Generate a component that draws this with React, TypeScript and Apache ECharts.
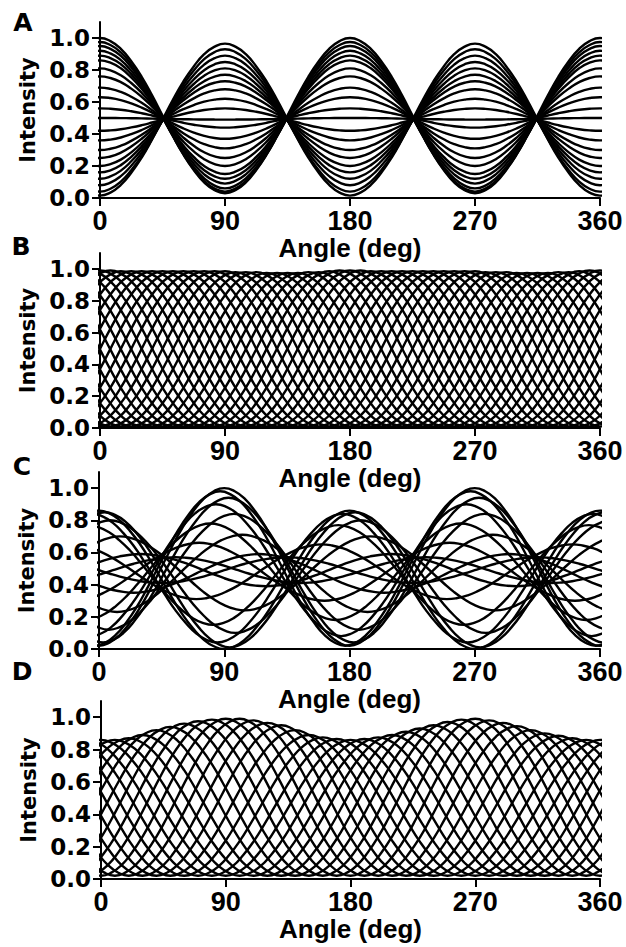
import { useEffect, useRef } from "react";
import * as echarts from "echarts";

// ---------- data ----------
const ANGLE_TICKS = [0, 90, 180, 270, 360];
const INTENSITY_TICKS = [0, 0.2, 0.4, 0.6, 0.8, 1.0];
const PANEL_LETTERS = ["A", "B", "C", "D"];

// normalized profile of one trace over half a turn, read every 7.5 deg
const TRACE_PROFILE = [
  1.0, 0.98, 0.93, 0.85, 0.75, 0.63, 0.5, 0.37, 0.25, 0.15, 0.07, 0.02,
  0.0, 0.02, 0.07, 0.15, 0.25, 0.37, 0.5, 0.63, 0.75, 0.85, 0.93, 0.98,
];
const PROFILE_STEP = 7.5;

// Panel A: value of every trace at 0 deg and at 90 deg
const A_START = [
  1.0, 0.975, 0.95, 0.92, 0.89, 0.86, 0.81, 0.76, 0.69, 0.63, 0.56, 0.5, 0.42,
  0.36, 0.3, 0.25, 0.2, 0.16, 0.12, 0.08, 0.04, 0.015,
];
const A_AT90 = [
  0.03, 0.04, 0.06, 0.09, 0.12, 0.15, 0.2, 0.25, 0.31, 0.37, 0.44, 0.49, 0.56,
  0.62, 0.68, 0.73, 0.77, 0.81, 0.85, 0.89, 0.93, 0.965,
];

// Panel B: phase (deg) of each trace and its peak, common trough
const B_PHASE = [
  0, 7.5, 15, 22.5, 30, 37.5, 45, 52.5, 60, 67.5, 75, 82.5, 90, 97.5, 105,
  112.5, 120, 127.5, 135, 142.5, 150, 157.5, 165, 172.5,
];
const B_PEAK = [
  0.99, 0.99, 0.985, 0.985, 0.985, 0.985, 0.985, 0.985, 0.985, 0.985, 0.985,
  0.985, 0.985, 0.98, 0.98, 0.98, 0.975, 0.975, 0.975, 0.975, 0.98, 0.98,
  0.985, 0.99,
];
const B_TROUGH = 0.01;

// Panel C: phase (deg), peak and trough of each trace
const C_PHASE = [0, 4, -5, 8, -8, 15, -20, 30, -45, 90, 87, 93, 84, 97, 80, 103, 72, 115, 55];
const C_PEAK = [
  0.86, 0.85, 0.84, 0.8, 0.77, 0.7, 0.65, 0.59, 0.57, 1.0, 0.98, 0.94, 0.9,
  0.84, 0.78, 0.71, 0.66, 0.59, 0.57,
];
const C_TROUGH = [
  0.0, 0.01, 0.04, 0.1, 0.15, 0.24, 0.31, 0.39, 0.41, 0.02, 0.02, 0.04, 0.08,
  0.12, 0.18, 0.23, 0.3, 0.35, 0.41,
];

// Panel D: phase (deg) of each trace, upper envelope every 10 deg, common trough
const D_PHASE = [0, 10, 20, 30, 40, 50, 60, 70, 80, 90, 100, 110, 120, 130, 140, 150, 160, 170];
const D_ENVELOPE = [
  0.86, 0.86, 0.87, 0.89, 0.92, 0.94, 0.96, 0.975, 0.985, 0.99, 0.99, 0.98,
  0.965, 0.95, 0.92, 0.89, 0.875, 0.865, 0.86, 0.865, 0.875, 0.89, 0.91, 0.93,
  0.95, 0.97, 0.985, 0.99, 0.98, 0.965, 0.945, 0.92, 0.9, 0.885, 0.87, 0.86,
];
const D_TROUGH = 0.02;

// ---------- build traces from the profile ----------
function buildTrace(
  phase: number,
  peakAt: (peakPos: number) => number,
  trough: number
): [number, number][] {
  const n = TRACE_PROFILE.length;
  const pts: [number, number][] = [];
  const kStart = Math.floor((-PROFILE_STEP - phase) / PROFILE_STEP);
  const kEnd = Math.ceil((360 + PROFILE_STEP - phase) / PROFILE_STEP);
  for (let k = kStart; k <= kEnd; k++) {
    const x = phase + k * PROFILE_STEP;
    const idx = ((k % n) + n) % n;
    const cycle = Math.round(k / n);
    const peak = peakAt(phase + 180 * cycle);
    pts.push([x, trough + (peak - trough) * TRACE_PROFILE[idx]]);
  }
  return pts;
}

const panelTraces: [number, number][][][] = [
  A_START.map((s, i) => buildTrace(0, () => s, A_AT90[i])),
  B_PHASE.map((p, i) => buildTrace(p, () => B_PEAK[i], B_TROUGH)),
  C_PHASE.map((p, i) => buildTrace(p, () => C_PEAK[i], C_TROUGH[i])),
  D_PHASE.map((p) =>
    buildTrace(
      p,
      (pos) => {
        const m = D_ENVELOPE.length;
        const j = ((Math.round(pos / 10) % m) + m) % m;
        return D_ENVELOPE[j];
      },
      D_TROUGH
    )
  ),
];

// ---------- layout ----------
const GRIDS = [
  { left: 100, top: 22, width: 500, height: 176 },
  { left: 100, top: 253, width: 500, height: 175 },
  { left: 99, top: 472, width: 501, height: 177 },
  { left: 101, top: 701, width: 499, height: 178 },
];
const LETTER_POS = [
  [23, 22],
  [21, 246],
  [22, 466],
  [22, 671],
];

export default function App() {
  const ref = useRef<HTMLDivElement>(null);

  useEffect(() => {
    document.body.style.margin = "0";
    if (!ref.current) return;
    const chart = echarts.init(ref.current, null, { renderer: "svg" });

    const axisLineStyle = { color: "#000", width: 2 };

    const xAxes = GRIDS.map((_, g) => ({
      gridIndex: g,
      type: "value",
      min: 0,
      max: 360,
      interval: 90,
      axisLine: { show: true, onZero: false, lineStyle: axisLineStyle },
      axisTick: {
        show: true,
        length: 8,
        customValues: ANGLE_TICKS,
        lineStyle: axisLineStyle,
      },
      axisLabel: {
        customValues: ANGLE_TICKS,
        color: "#000",
        fontFamily: "Liberation Sans",
        fontWeight: "bold",
        fontSize: 27,
        margin: 9,
      },
      splitLine: { show: false },
      name: "Angle (deg)",
      nameLocation: "middle",
      nameGap: 37,
      nameTextStyle: {
        color: "#000",
        fontFamily: "Liberation Sans",
        fontWeight: "bold",
        fontSize: 26,
      },
    }));

    const yAxes = GRIDS.map((_, g) => ({
      gridIndex: g,
      type: "value",
      min: 0,
      max: 1.1,
      interval: 0.2,
      axisLine: { show: true, onZero: false, lineStyle: axisLineStyle },
      axisTick: {
        show: true,
        length: 8,
        customValues: INTENSITY_TICKS,
        lineStyle: axisLineStyle,
      },
      axisLabel: {
        customValues: INTENSITY_TICKS,
        formatter: (v: number) => (v > 1.05 ? "" : v.toFixed(1)),
        color: "#000",
        fontFamily: "DejaVu Sans",
        fontWeight: "bold",
        fontSize: 23,
        margin: 10,
      },
      splitLine: { show: false },
      name: "Intensity",
      nameLocation: "middle",
      nameRotate: 90,
      nameGap: 60,
      nameTextStyle: {
        color: "#000",
        fontFamily: "DejaVu Sans",
        fontWeight: "bold",
        fontSize: 21,
      },
    }));

    const series: any[] = [];
    panelTraces.forEach((traces, g) => {
      traces.forEach((data) => {
        series.push({
          type: "line",
          xAxisIndex: g,
          yAxisIndex: g,
          data,
          smooth: true,
          symbol: "none",
          showSymbol: false,
          silent: true,
          clip: true,
          lineStyle: { color: "#000", width: 2.4 },
          emphasis: { disabled: true },
        });
      });
    });

    chart.setOption({
      animation: false,
      backgroundColor: "#fff",
      grid: GRIDS.map((g) => ({ ...g, containLabel: false })),
      xAxis: xAxes,
      yAxis: yAxes,
      series,
      graphic: PANEL_LETTERS.map((t, i) => ({
        type: "text",
        x: LETTER_POS[i][0],
        y: LETTER_POS[i][1],
        style: {
          text: t,
          fill: "#000",
          font: 'bold 25px "DejaVu Sans"',
          textAlign: "center",
          textVerticalAlign: "middle",
        },
      })),
    });

    return () => chart.dispose();
  }, []);

  return <div ref={ref} style={{ width: 626, height: 947 }} />;
}
